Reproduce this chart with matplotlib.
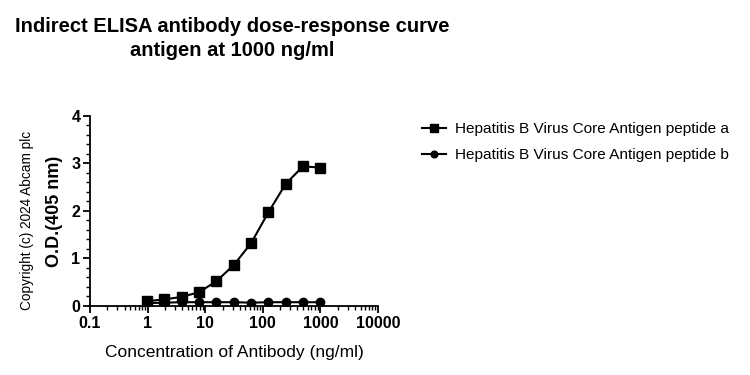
import numpy as np
import matplotlib.pyplot as plt
from matplotlib.ticker import FixedLocator, MultipleLocator, LogLocator, NullFormatter

plt.rcParams['font.family'] = ['Liberation Sans', 'DejaVu Sans']

# Данные
conc = [0.977, 1.95, 3.9, 7.8, 15.6, 31.25, 62.5, 125, 250, 500, 1000]
peptide_a = [0.10, 0.14, 0.19, 0.29, 0.52, 0.86, 1.32, 1.97, 2.57, 2.94, 2.91]
peptide_b = [0.06, 0.07, 0.08, 0.08, 0.08, 0.08, 0.07, 0.08, 0.08, 0.08, 0.08]
series_names = ['Hepatitis B Virus Core Antigen peptide a',
                'Hepatitis B Virus Core Antigen peptide b']
x_ticks = [0.1, 1, 10, 100, 1000, 10000]
x_tick_labels = ['0.1', '1', '10', '100', '1000', '10000']

fig = plt.figure(figsize=(7.5, 3.75), dpi=100)
ax = fig.add_axes([0.12, 0.184, 0.384, 0.507])

ax.plot(conc, peptide_a, color='black', lw=1.5, marker='s', ms=7, label=series_names[0])
ax.plot(conc, peptide_b, color='black', lw=1.5, marker='o', ms=6, label=series_names[1])

ax.set_xscale('log')
ax.set_xlim(0.1, 10000)
ax.set_ylim(0, 4)
ax.xaxis.set_major_locator(FixedLocator(x_ticks))
ax.set_xticklabels(x_tick_labels)
ax.xaxis.set_minor_locator(LogLocator(base=10, subs=np.arange(2, 10)))
ax.xaxis.set_minor_formatter(NullFormatter())
ax.yaxis.set_major_locator(MultipleLocator(1))
ax.yaxis.set_minor_locator(MultipleLocator(0.2))

for s in ['top', 'right']:
    ax.spines[s].set_visible(False)
for s in ['left', 'bottom']:
    ax.spines[s].set_linewidth(1.3)
ax.tick_params(which='major', length=5, width=1.3, labelsize=11.5, pad=2)
ax.tick_params(which='minor', length=3, width=1)
for lab in ax.get_xticklabels() + ax.get_yticklabels():
    lab.set_fontweight('bold')

ax.set_xlabel('Concentration of Antibody (ng/ml)', fontsize=12.5, labelpad=10)
ax.set_ylabel('O.D.(405 nm)', fontsize=13, fontweight='bold', labelpad=6)
fig.text(0.036, 0.413, 'Copyright (c) 2024 Abcam plc', rotation=90, fontsize=9.8,
         ha='center', va='center')

fig.text(0.31, 0.897, 'Indirect ELISA antibody dose-response curve\nantigen at 1000 ng/ml',
         ha='center', va='center', fontsize=14.5, fontweight='bold', linespacing=1.38)

ax.legend(loc='upper left', bbox_to_anchor=(0.555, 0.69), bbox_transform=fig.transFigure,
          frameon=False, fontsize=11.1, handlelength=1.5, handletextpad=0.6,
          labelspacing=0.75, borderaxespad=0, markerscale=0.8)

fig.savefig('out.png', dpi=100)
